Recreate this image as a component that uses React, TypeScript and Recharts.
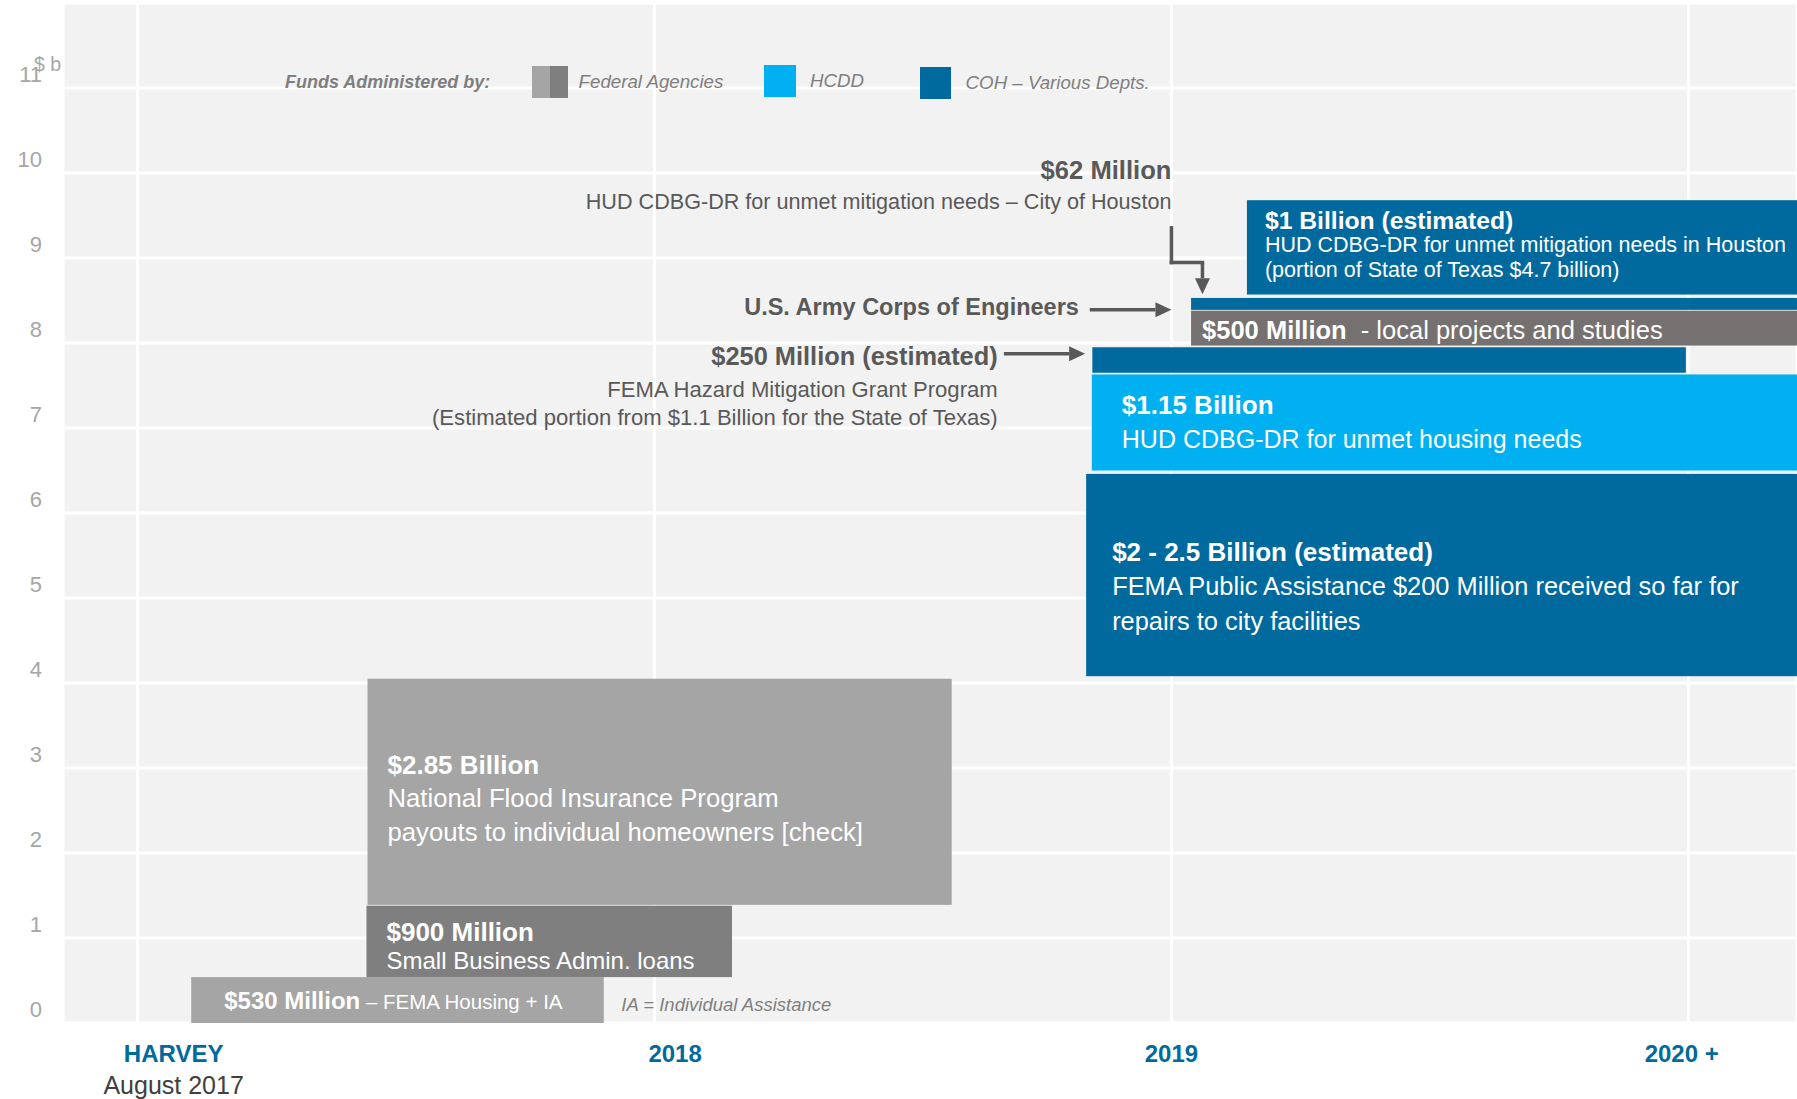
import React from 'react';
import {
  ComposedChart,
  XAxis,
  YAxis,
  CartesianGrid,
  ReferenceArea,
  ReferenceLine,
  ReferenceDot,
  Legend,
} from 'recharts';

const FONT = "'Liberation Sans', Arial, Helvetica, sans-serif";

// time runs along x (in years), money up y ($ billions)
const X_MIN = 2016.856;
const X_MAX = 2020.21;
const YEAR_LINES = [2017, 2018, 2019, 2020];
const MONEY_TICKS = [0, 1, 2, 3, 4, 5, 6, 7, 8, 9, 10, 11];

const TIME_TICKS = [2017.07, 2018.04, 2019.0, 2019.987];
const TIME_LABELS = ['HARVEY', '2018', '2019', '2020 +'];
const TIME_SUBLABELS = ['August 2017', '', '', ''];

// each fund is a block: when it arrives (start/end) and its slice of the $ stack (low/high)
const FUND_IDS = ['fema-ia', 'sba', 'nfip', 'fema-pa', 'hcdd', 'hmgp', 'usace', 'cdbg-62', 'cdbg-mit'];
const FUND_AGENCY = ['federal', 'federalDark', 'federal', 'coh', 'hcdd', 'coh', 'usace', 'coh', 'coh'];
const FUND_START = [2017.104, 2017.443, 2017.445, 2018.835, 2018.846, 2018.847, 2019.038, 2019.038, 2019.146];
const FUND_END = [2017.902, 2018.15, 2018.575, X_MAX, X_MAX, 2019.995, X_MAX, X_MAX, X_MAX];
const FUND_LOW = [0, 0.54, 1.39, 4.08, 6.5, 7.65, 7.97, 8.39, 8.57];
const FUND_HIGH = [0.54, 1.38, 4.05, 6.46, 7.63, 7.95, 8.38, 8.53, 9.68];
const FUND_TITLE = [
  '$530 Million',
  '$900 Million',
  '$2.85 Billion',
  '$2 - 2.5 Billion (estimated)',
  '$1.15 Billion',
  '',
  '$500 Million',
  '',
  '$1 Billion (estimated)',
];
const FUND_TEXT = [
  [' – FEMA Housing + IA'],
  ['Small Business Admin. loans'],
  ['National Flood Insurance Program', 'payouts to individual homeowners [check]'],
  ['FEMA Public Assistance $200 Million received so far for', 'repairs to city facilities'],
  ['HUD CDBG-DR for unmet housing needs'],
  [],
  ['  - local projects and studies'],
  [],
  ['HUD CDBG-DR for unmet mitigation needs in Houston', '(portion of State of Texas $4.7 billion)'],
];

// callouts outside the blocks
const CALLOUT_X = [2019.0, 2018.821, 2018.664];
const CALLOUT_Y = [10.03, 8.43, 7.84];
const CALLOUT_TITLE = ['$62 Million', 'U.S. Army Corps of Engineers', '$250 Million (estimated)'];
const CALLOUT_TEXT = [
  ['HUD CDBG-DR for unmet mitigation needs – City of Houston'],
  [],
  ['FEMA Hazard Mitigation Grant Program', '(Estimated portion from $1.1 Billion for the State of Texas)'],
];
const ARROW_PATHS = [
  [[2019.0, 9.355], [2019.0, 8.946], [2019.06, 8.946], [2019.06, 8.575]],
  [[2018.842, 8.39], [2019.0, 8.39]],
  [[2018.676, 7.874], [2018.833, 7.874]],
];

const FOOTNOTE = 'IA = Individual Assistance';
const FOOTNOTE_X = 2017.936;
const FOOTNOTE_Y = 0.217;

const LEGEND_LABELS = ['Federal Agencies', 'HCDD', 'COH – Various Depts.'];
const LEGEND_KEYS = [['federal', 'federalDark'], ['hcdd'], ['coh']];

const COLORS: Record<string, string> = {
  federal: '#a5a5a5',
  federalDark: '#7f7f7f',
  usace: '#767171',
  hcdd: '#00b0f0',
  coh: '#006a9e',
};

const BLOCK_STYLE: Record<string, { padX: number; title: number; body: number; gap: number; shift: number; inline?: boolean }> = {
  'fema-ia': { padX: 33, title: 24, body: 20.5, gap: 0, shift: 1, inline: true },
  sba: { padX: 20, title: 26, body: 24, gap: 28.3, shift: 4.6 },
  nfip: { padX: 20, title: 26, body: 25.7, gap: 34, shift: 6.7 },
  'fema-pa': { padX: 26, title: 26, body: 25.4, gap: 34.5, shift: 11.3 },
  hcdd: { padX: 30, title: 26, body: 25, gap: 34.3, shift: 0 },
  hmgp: { padX: 0, title: 0, body: 0, gap: 0, shift: 0 },
  usace: { padX: 11, title: 25.5, body: 25.5, gap: 0, shift: 1.5, inline: true },
  'cdbg-62': { padX: 0, title: 0, body: 0, gap: 0, shift: 0 },
  'cdbg-mit': { padX: 18, title: 24.7, body: 21.5, gap: 25, shift: -2.5 },
};

const CALLOUT_STYLE = [
  { title: 25.6, body: 21.6, first: 30.7, gap: 28.4 },
  { title: 23.5, body: 21.6, first: 30.7, gap: 28.4 },
  { title: 25.4, body: 22.1, first: 32.6, gap: 28.4 },
];

const ARROW_COLOR = '#595959';

const renderBlock = (i: number) => (p: any) => {
  const { x, y, width, height } = p;
  const st = BLOCK_STYLE[FUND_IDS[i]];
  const tx = x + st.padX;
  const cy = y + height / 2 + st.shift;
  let texts: React.ReactNode = null;
  if (FUND_TITLE[i]) {
    if (st.inline) {
      texts = (
        <text x={tx} y={cy + 0.35 * st.title} fill="#fff" fontFamily={FONT} style={{ whiteSpace: 'pre' }}>
          <tspan fontWeight="bold" fontSize={st.title}>{FUND_TITLE[i]}</tspan>
          <tspan fontSize={st.body}>{FUND_TEXT[i][0]}</tspan>
        </text>
      );
    } else {
      const lines = [FUND_TITLE[i], ...FUND_TEXT[i]];
      const y0 = cy - ((lines.length - 1) * st.gap) / 2;
      texts = lines.map((t, k) => {
        const size = k === 0 ? st.title : st.body;
        return (
          <text
            key={k}
            x={tx}
            y={y0 + k * st.gap + 0.35 * size}
            fill="#fff"
            fontFamily={FONT}
            fontSize={size}
            fontWeight={k === 0 ? 'bold' : 'normal'}
          >
            {t}
          </text>
        );
      });
    }
  }
  return (
    <g>
      <rect x={x} y={y} width={width} height={height} fill={COLORS[FUND_AGENCY[i]]} />
      {texts}
    </g>
  );
};

const renderCallout = (i: number) => (p: any) => {
  const { cx, cy } = p;
  const st = CALLOUT_STYLE[i];
  return (
    <g fontFamily={FONT} fill={ARROW_COLOR} textAnchor="end">
      <text x={cx} y={cy + 0.35 * st.title} fontWeight="bold" fontSize={st.title}>
        {CALLOUT_TITLE[i]}
      </text>
      {CALLOUT_TEXT[i].map((t, k) => (
        <text key={k} x={cx} y={cy + st.first + k * st.gap + 0.35 * st.body} fontSize={st.body}>
          {t}
        </text>
      ))}
    </g>
  );
};

const renderFootnote = (p: any) => (
  <text x={p.cx} y={p.cy + 0.35 * 18.5} fill="#7f7f7f" fontStyle="italic" fontSize={18.5} fontFamily={FONT}>
    {FOOTNOTE}
  </text>
);

const arrowShape = (head: boolean) => (p: any) => {
  const { x1, y1, x2, y2 } = p;
  const len = Math.hypot(x2 - x1, y2 - y1) || 1;
  const ux = (x2 - x1) / len;
  const uy = (y2 - y1) / len;
  const L = head ? 16 : 0;
  const W = 7.5;
  const bx = x2 - ux * L;
  const by = y2 - uy * L;
  return (
    <g>
      <line x1={x1} y1={y1} x2={bx} y2={by} stroke={ARROW_COLOR} strokeWidth={3.5} strokeLinecap={head ? 'butt' : 'square'} />
      {head && (
        <polygon
          points={`${x2},${y2} ${bx - uy * W},${by + ux * W} ${bx + uy * W},${by - ux * W}`}
          fill={ARROW_COLOR}
        />
      )}
    </g>
  );
};

const renderMoneyTick = (p: any) => (
  <text x={p.x} y={p.y - 14 + 0.35 * 22} textAnchor="end" fill="#a6a6a6" fontSize={22} fontFamily={FONT}>
    {p.payload.value}
  </text>
);

const renderTimeTick = (p: any) => {
  const i = TIME_TICKS.indexOf(p.payload.value);
  return (
    <g fontFamily={FONT} textAnchor="middle">
      <text x={p.x} y={p.y + 30.5 + 0.35 * 24} fill={COLORS.coh} fontWeight="bold" fontSize={24}>
        {TIME_LABELS[i]}
      </text>
      {TIME_SUBLABELS[i] && (
        <text x={p.x} y={p.y + 62 + 0.35 * 25} fill="#404040" fontSize={25}>
          {TIME_SUBLABELS[i]}
        </text>
      )}
    </g>
  );
};

const LEGEND_LEFT = [532, 764, 920];
const LEGEND_TOP = [66, 65, 67];
const LEGEND_SWATCH_W = [36, 31.5, 31];
const LEGEND_GAP = [10.6, 14.5, 14.6];

const FundsLegend = () => (
  <div style={{ position: 'relative', width: 1797, height: 110, fontFamily: FONT, fontStyle: 'italic', color: '#7f7f7f' }}>
    <span
      style={{ position: 'absolute', left: 285, top: 70.7, fontSize: 18, lineHeight: '22px', fontWeight: 700, whiteSpace: 'nowrap' }}
    >
      Funds Administered by:
    </span>
    {LEGEND_LABELS.map((lab, i) => (
      <div
        key={lab}
        style={{ position: 'absolute', left: LEGEND_LEFT[i], top: LEGEND_TOP[i], display: 'flex', alignItems: 'center', whiteSpace: 'nowrap' }}
      >
        <div style={{ display: 'flex', width: LEGEND_SWATCH_W[i], height: 32 }}>
          {LEGEND_KEYS[i].map((k) => (
            <div key={k} style={{ flex: 1, background: COLORS[k] }} />
          ))}
        </div>
        <span style={{ marginLeft: LEGEND_GAP[i], fontSize: 18.7 }}>{lab}</span>
      </div>
    ))}
  </div>
);

export default function App() {
  const data = FUND_START.map((x) => ({ x }));
  return (
    <div style={{ position: 'absolute', left: 0, top: 0 }}>
      <ComposedChart width={1797} height={1099} data={data} margin={{ top: 3, right: 0, bottom: 0, left: 0 }}>
        <CartesianGrid xAxisId="years" vertical horizontal fill="#f2f2f2" stroke="#ffffff" strokeWidth={3} />
        <XAxis
          xAxisId="years"
          type="number"
          dataKey="x"
          domain={[X_MIN, X_MAX]}
          ticks={YEAR_LINES}
          allowDataOverflow
          hide
        />
        <XAxis
          type="number"
          dataKey="x"
          domain={[X_MIN, X_MAX]}
          ticks={TIME_TICKS}
          interval={0}
          allowDataOverflow
          height={76}
          axisLine={false}
          tickLine={false}
          tickSize={0}
          tickMargin={0}
          tick={renderTimeTick}
        />
        <YAxis
          type="number"
          domain={[0, 12]}
          ticks={MONEY_TICKS}
          interval={0}
          allowDataOverflow
          width={63}
          axisLine={false}
          tickLine={false}
          tickSize={0}
          tickMargin={21}
          tick={renderMoneyTick}
          label={{
            content: (p: any) => (
              <text x={(p.viewBox?.x ?? 0) + 34} y={(p.viewBox?.y ?? 3) + 61 + 0.35 * 19.5} fill="#a6a6a6" fontSize={19.5} fontFamily={FONT}>
                $ b
              </text>
            ),
          }}
        />
        <Legend
          layout="horizontal"
          verticalAlign="middle"
          align="center"
          width={1797}
          height={110}
          wrapperStyle={{ left: 0, top: 0 }}
          content={<FundsLegend />}
        />
        {FUND_IDS.map((id, i) => (
          <ReferenceArea
            key={id}
            x1={FUND_START[i]}
            x2={FUND_END[i]}
            y1={FUND_LOW[i]}
            y2={FUND_HIGH[i]}
            ifOverflow="hidden"
            shape={renderBlock(i)}
          />
        ))}
        {ARROW_PATHS.map((path, a) =>
          path.slice(1).map((pt, s) => (
            <ReferenceLine
              key={`arrow-${a}-${s}`}
              segment={[
                { x: path[s][0], y: path[s][1] },
                { x: pt[0], y: pt[1] },
              ]}
              ifOverflow="visible"
              shape={arrowShape(s === path.length - 2)}
            />
          )),
        )}
        {CALLOUT_TITLE.map((t, i) => (
          <ReferenceDot key={t} x={CALLOUT_X[i]} y={CALLOUT_Y[i]} r={0} ifOverflow="visible" shape={renderCallout(i)} />
        ))}
        <ReferenceDot x={FOOTNOTE_X} y={FOOTNOTE_Y} r={0} ifOverflow="visible" shape={renderFootnote} />
      </ComposedChart>
    </div>
  );
}
